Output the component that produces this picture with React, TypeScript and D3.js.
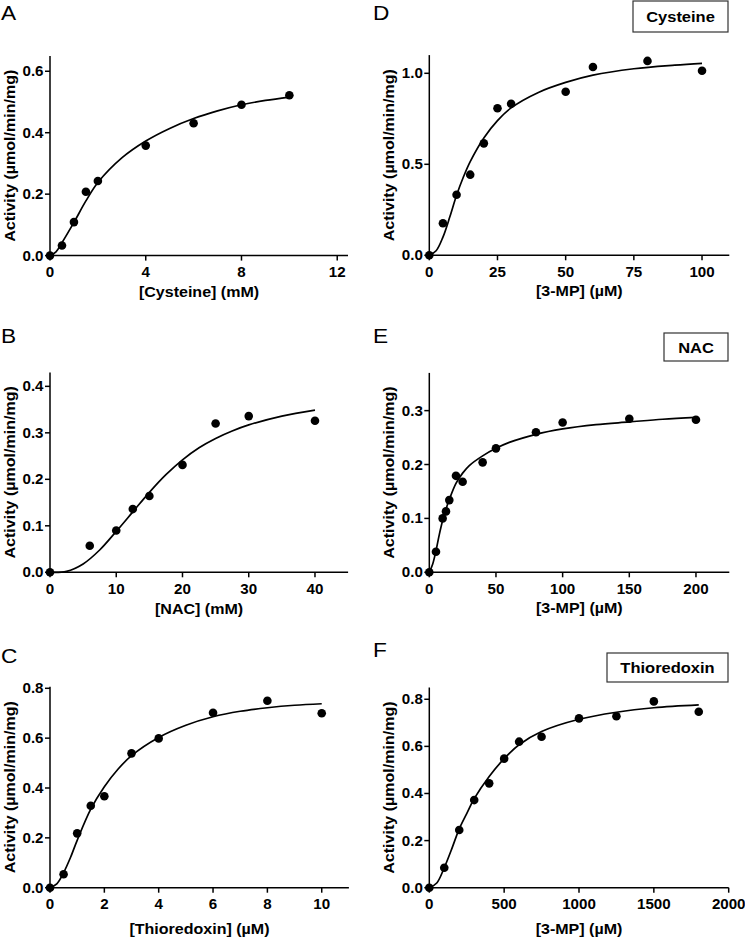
import React from 'react';
import * as d3 from 'd3';

// ---------- Data ----------
const aX = [0, 0.5, 1, 1.5, 2, 4, 6, 8, 10];
const aY = [0, 0.033, 0.109, 0.208, 0.243, 0.358, 0.431, 0.491, 0.522];
const aFitX = [0, 0.25, 0.5, 1, 1.5, 2, 3, 4, 5, 6, 7, 8, 9, 10];
const aFitY = [0, 0.012, 0.042, 0.108, 0.178, 0.238, 0.318, 0.373, 0.414, 0.446, 0.471, 0.491, 0.505, 0.516];

const bX = [0, 6, 10, 12.5, 15, 20, 25, 30, 40];
const bY = [0, 0.057, 0.09, 0.136, 0.164, 0.231, 0.32, 0.336, 0.326];
const bFitX = [0, 2.5, 5, 7.5, 10, 12.5, 15, 17.5, 20, 22.5, 25, 27.5, 30, 35, 40];
const bFitY = [0, 0.002, 0.018, 0.048, 0.088, 0.13, 0.172, 0.21, 0.242, 0.268, 0.288, 0.304, 0.317, 0.336, 0.349];

const cX = [0, 0.5, 1, 1.5, 2, 3, 4, 6, 8, 10];
const cY = [0, 0.054, 0.218, 0.329, 0.367, 0.539, 0.599, 0.702, 0.75, 0.7];
const cFitX = [0, 0.25, 0.5, 0.75, 1, 1.5, 2, 2.5, 3, 4, 5, 6, 7, 8, 9, 10];
const cFitY = [0, 0.015, 0.06, 0.12, 0.19, 0.315, 0.405, 0.475, 0.53, 0.603, 0.652, 0.686, 0.708, 0.722, 0.732, 0.738];

const dX = [0, 5, 10, 15, 20, 25, 30, 50, 60, 80, 100];
const dY = [0, 0.176, 0.333, 0.443, 0.615, 0.808, 0.833, 0.899, 1.035, 1.068, 1.014];
const dFitX = [0, 2.5, 5, 7.5, 10, 12.5, 15, 20, 25, 30, 40, 50, 60, 75, 90, 100];
const dFitY = [0, 0.025, 0.1, 0.21, 0.33, 0.43, 0.515, 0.645, 0.74, 0.81, 0.895, 0.95, 0.99, 1.025, 1.045, 1.055];

const eX = [0, 5, 10, 12.5, 15, 20, 25, 40, 50, 80, 100, 150, 200];
const eY = [0, 0.038, 0.1, 0.113, 0.134, 0.179, 0.168, 0.204, 0.23, 0.26, 0.278, 0.285, 0.283];
const eFitX = [0, 2.5, 5, 7.5, 10, 12.5, 15, 20, 25, 30, 40, 50, 60, 80, 100, 125, 150, 175, 200];
const eFitY = [0, 0.015, 0.04, 0.07, 0.096, 0.117, 0.135, 0.165, 0.184, 0.198, 0.216, 0.23, 0.241, 0.256, 0.266, 0.274, 0.279, 0.284, 0.2875];

const fX = [0, 100, 200, 300, 400, 500, 600, 750, 1000, 1250, 1500, 1800];
const fY = [0, 0.085, 0.245, 0.372, 0.443, 0.548, 0.62, 0.641, 0.719, 0.728, 0.791, 0.747];
const fFitX = [0, 50, 100, 150, 200, 250, 300, 400, 500, 600, 750, 1000, 1250, 1500, 1800];
const fFitY = [0, 0.02, 0.085, 0.165, 0.25, 0.315, 0.378, 0.472, 0.548, 0.607, 0.663, 0.715, 0.745, 0.764, 0.776];

const aXTicks = [0, 4, 8, 12];
const aYTicks = [0, 0.2, 0.4, 0.6];
const bXTicks = [0, 10, 20, 30, 40];
const bYTicks = [0, 0.1, 0.2, 0.3, 0.4];
const cXTicks = [0, 2, 4, 6, 8, 10];
const cYTicks = [0, 0.2, 0.4, 0.6, 0.8];
const dXTicks = [0, 25, 50, 75, 100];
const dYTicks = [0, 0.5, 1.0];
const eXTicks = [0, 50, 100, 150, 200];
const eYTicks = [0, 0.1, 0.2, 0.3];
const fXTicks = [0, 500, 1000, 1500, 2000];
const fYTicks = [0, 0.2, 0.4, 0.6, 0.8];

const Y_TITLE = 'Activity (\u00b5mol/min/mg)';

// ---------- Layout ----------
const FONT = '"Liberation Sans", Arial, Helvetica, sans-serif';
const SX = 1.08;

const panels = [
  { letter: 'A', lx: 1, ly: 20, xs: aX, ys: aY, fx: aFitX, fy: aFitY, xTicks: aXTicks, yTicks: aYTicks,
    xDom: [0, 12.45], xRng: [50, 348], yDom: [0, 0.65], yRng: [255.6, 55.9], xTitle: '[Cysteine] (mM)', xtDy: 41 },
  { letter: 'B', lx: 1, ly: 343, xs: bX, ys: bY, fx: bFitX, fy: bFitY, xTicks: bXTicks, yTicks: bYTicks,
    xDom: [0, 45], xRng: [50, 348.1], yDom: [0, 0.43], yRng: [572.3, 372.4], xTitle: '[NAC] (mM)', xtDy: 42 },
  { letter: 'C', lx: 1, ly: 663, xs: cX, ys: cY, fx: cFitX, fy: cFitY, xTicks: cXTicks, yTicks: cYTicks,
    xDom: [0, 11], xRng: [50, 348.9], yDom: [0, 0.806], yRng: [887.7, 686.8], xTitle: '[Thioredoxin] (\u00b5M)', xtDy: 46 },
  { letter: 'D', lx: 373, ly: 20, xs: dX, ys: dY, fx: dFitX, fy: dFitY, xTicks: dXTicks, yTicks: dYTicks,
    xDom: [0, 110], xRng: [429.3, 729.3], yDom: [0, 1.1], yRng: [255.3, 55.1], xTitle: '[3-MP] (\u00b5M)', xtDy: 41,
    box: { text: 'Cysteine', x0: 633, x1: 728, y0: 1, y1: 32 } },
  { letter: 'E', lx: 373, ly: 343, xs: eX, ys: eY, fx: eFitX, fy: eFitY, xTicks: eXTicks, yTicks: eYTicks,
    xDom: [0, 225], xRng: [429.3, 729.3], yDom: [0, 0.37], yRng: [572.3, 372.9], xTitle: '[3-MP] (\u00b5M)', xtDy: 41,
    box: { text: 'NAC', x0: 664, x1: 728, y0: 333, y1: 361 } },
  { letter: 'F', lx: 373, ly: 657, xs: fX, ys: fY, fx: fFitX, fy: fFitY, xTicks: fXTicks, yTicks: fYTicks,
    xDom: [0, 2000], xRng: [429.3, 728.7], yDom: [0, 0.85], yRng: [887.7, 687.5], xTitle: '[3-MP] (\u00b5M)', xtDy: 46,
    box: { text: 'Thioredoxin', x0: 607, x1: 728, y0: 653, y1: 682 } },
];

function Txt({ x, y, children, size, weight = 'bold', anchor = 'middle', sx = SX, rotate = 0 }: any) {
  const t = rotate ? `translate(${x},${y}) rotate(${rotate}) scale(${sx},1)` : `translate(${x},${y}) scale(${sx},1)`;
  return (
    <text transform={t} textAnchor={anchor} fontFamily={FONT} fontSize={size} fontWeight={weight} fill="#000">
      {children}
    </text>
  );
}

function Panel({ p }: any) {
  const x = d3.scaleLinear().domain(p.xDom).range(p.xRng);
  const y = d3.scaleLinear().domain(p.yDom).range(p.yRng);
  const x0 = p.xRng[0];
  const y0 = p.yRng[0];
  const fit = d3.line<number>()
    .x((_, i) => x(p.fx[i]))
    .y((d) => y(d))
    .curve(d3.curveCatmullRom.alpha(0.5))(p.fy);
  const fmtY = d3.format('.1f');
  const xMid = (p.xRng[0] + p.xRng[1]) / 2;
  const yMid = (p.yRng[0] + p.yRng[1]) / 2;
  return (
    <g>
      <Txt x={p.lx} y={p.ly} size={21} weight="normal" anchor="start" sx={1.08}>{p.letter}</Txt>
      {p.box && (
        <g>
          <rect x={p.box.x0} y={p.box.y0} width={p.box.x1 - p.box.x0} height={p.box.y1 - p.box.y0}
            fill="#fff" stroke="#333" strokeWidth={1.2} />
          <Txt x={(p.box.x0 + p.box.x1) / 2} y={(p.box.y0 + p.box.y1) / 2 + 5.5} size={15} sx={1.1}>{p.box.text}</Txt>
        </g>
      )}
      {/* axes */}
      <line x1={x0} x2={p.xRng[1]} y1={y0} y2={y0} stroke="#000" strokeWidth={1.5} />
      <line x1={x0} x2={x0} y1={y0} y2={p.yRng[1]} stroke="#000" strokeWidth={1.5} />
      {p.xTicks.map((t: number) => (
        <g key={'xt' + t}>
          <line x1={x(t)} x2={x(t)} y1={y0} y2={y0 + 5} stroke="#000" strokeWidth={1.5} />
          <Txt x={x(t)} y={y0 + 21.5} size={14}>{String(t)}</Txt>
        </g>
      ))}
      {p.yTicks.map((t: number) => (
        <g key={'yt' + t}>
          <line x1={x0 - 5} x2={x0} y1={y(t)} y2={y(t)} stroke="#000" strokeWidth={1.5} />
          <Txt x={x0 - 6.5} y={y(t) + 5} size={14} anchor="end">{fmtY(t)}</Txt>
        </g>
      ))}
      <Txt x={xMid} y={y0 + p.xtDy} size={15} sx={1.07}>{p.xTitle}</Txt>
      <Txt x={x0 - 35} y={yMid} size={15} sx={1.07} rotate={-90}>{Y_TITLE}</Txt>
      <path d={fit || ''} fill="none" stroke="#000" strokeWidth={1.7} />
      {p.xs.map((v: number, i: number) => (
        <circle key={'pt' + i} cx={x(v)} cy={y(p.ys[i])} r={4.3} fill="#000" />
      ))}
    </g>
  );
}

export default function App() {
  return (
    <svg width={745} height={937} style={{ position: 'absolute', left: 0, top: 0, background: '#fff' }}>
      <rect x={0} y={0} width={745} height={937} fill="#fff" />
      {panels.map((p) => <Panel key={p.letter} p={p} />)}
    </svg>
  );
}
